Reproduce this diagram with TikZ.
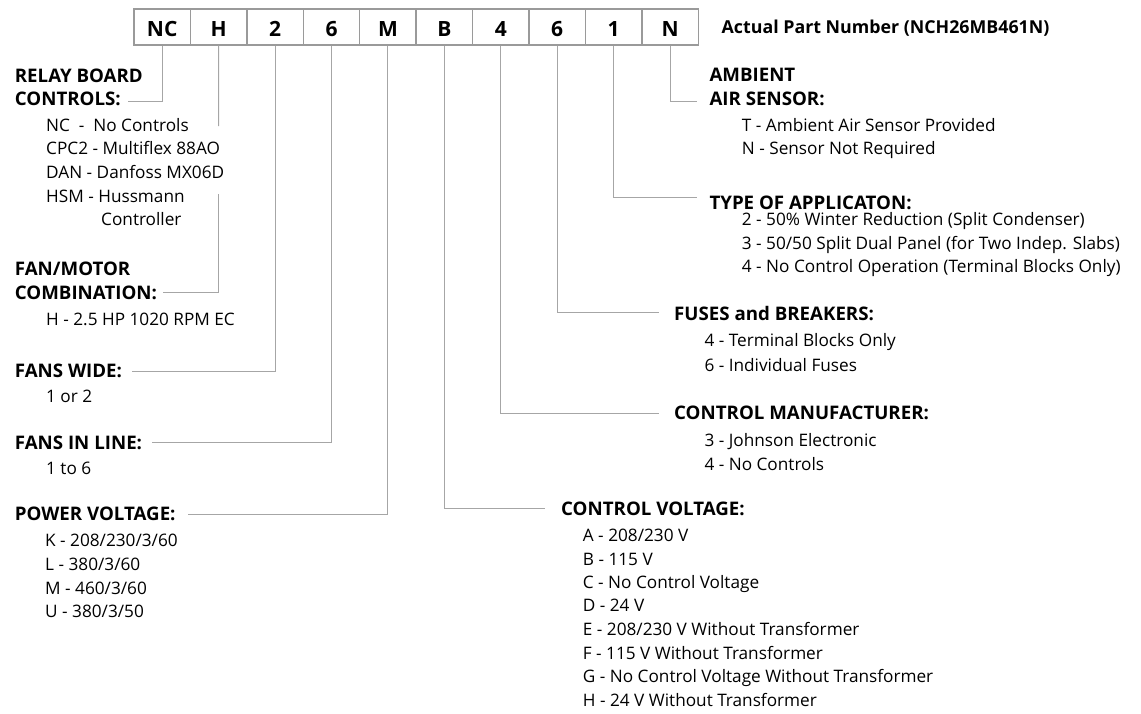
\documentclass[tikz,border=0pt]{standalone}
\usepackage{fontspec}
\setmainfont{Open Sans}
\definecolor{lgray}{HTML}{A6A6A6}
\definecolor{bgray}{HTML}{9A9A9A}
\begin{document}
\begin{tikzpicture}[x=1pt,y=-1pt,
  pbox/.style={draw=bgray,line width=1.4pt,minimum width=56.43pt,minimum height=36pt,inner sep=0pt},
  ptxt/.style={anchor=base,inner sep=0pt,font=\bfseries\fontsize{21}{22}\selectfont},
  lead/.style={draw=lgray,line width=1pt},
  hd/.style={anchor=base west,inner sep=0pt,font=\bfseries\fontsize{18.7}{20}\selectfont},
  ttl/.style={anchor=base west,inner sep=0pt,font=\bfseries\fontsize{17.8}{20}\selectfont},
  opt/.style={anchor=base west,inner sep=0pt,font=\fontsize{17.2}{19}\selectfont}]
\useasboundingbox (0,0) rectangle (1141,713);
% part number boxes
\foreach \i/\t in {1/NC,2/H,3/2,4/6,5/M,6/B,7/4,8/6,9/1,10/N}{
  \node[pbox] (b\i) at ({134+56.43*(\i-0.5)},27) {};
  \node[ptxt] (t\i) at ({134+56.43*(\i-0.5)},36) {\t};
}
\node[ttl] (title) at (721.5,33.3) {Actual Part Number (NCH26MB461N)};

% left column
\node[hd] (h1a) at (14.7,82) {RELAY BOARD};
\node[hd] (h1b) at (14.7,105) {CONTROLS:};
\node[opt] (o1a) at (46,131) {NC\ \ -\ \ No Controls};
\node[opt] (o1b) at (46,154.3) {CPC2 - Multiflex 88AO};
\node[opt] (o1c) at (46,178.3) {DAN - Danfoss MX06D};
\node[opt] (o1d) at (46,202.7) {HSM - Hussmann};
\node[opt] (o1e) at (101,225.7) {Controller};

\node[hd] (h2a) at (14.7,275.7) {FAN/MOTOR};
\node[hd] (h2b) at (14.7,299.3) {COMBINATION:};
\node[opt] (o2a) at (46,325.7) {H - 2.5 HP 1020 RPM EC};

\node[hd] (h3) at (14.7,377.3) {FANS WIDE:};
\node[opt] (o3a) at (46,402.3) {1 or 2};

\node[hd] (h4) at (14.7,449) {FANS IN LINE:};
\node[opt] (o4a) at (46,474) {1 to 6};

\node[hd] (h5) at (14.7,520) {POWER VOLTAGE:};
\node[opt] (o5a) at (45,546) {K - 208/230/3/60};
\node[opt] (o5b) at (45,570) {L - 380/3/60};
\node[opt] (o5c) at (45,594) {M - 460/3/60};
\node[opt] (o5d) at (45,617.7) {U - 380/3/50};

% right column
\node[hd] (h10a) at (709.3,81.7) {AMBIENT};
\node[hd] (h10b) at (709.3,105) {AIR SENSOR:};
\node[opt] (o10a) at (741.7,131) {T - Ambient Air Sensor Provided};
\node[opt] (o10b) at (741.7,154.3) {N - Sensor Not Required};

\node[hd] (h9) at (709.3,209.3) {TYPE OF APPLICATON:};
\node[opt] (o9a) at (741.7,225.7) {2 - 50\% Winter Reduction (Split Condenser)};
\node[opt] (o9b) at (741.7,249.3) {3 - 50/50 Split Dual Panel (for Two Indep. Slabs)};
\node[opt] (o9c) at (741.7,272.3) {4 - No Control Operation (Terminal Blocks Only)};

\node[hd] (h8) at (674,320) {FUSES and BREAKERS:};
\node[opt] (o8a) at (704.3,346.7) {4 - Terminal Blocks Only};
\node[opt] (o8b) at (704.3,371) {6 - Individual Fuses};

\node[hd] (h7) at (674,419.3) {CONTROL MANUFACTURER:};
\node[opt] (o7a) at (704.3,446.7) {3 - Johnson Electronic};
\node[opt] (o7b) at (704.3,470.7) {4 - No Controls};

\node[hd] (h6) at (561,515) {CONTROL VOLTAGE:};
\node[opt] (o6a) at (582.7,541.7) {A - 208/230 V};
\node[opt] (o6b) at (582.7,565) {B - 115 V};
\node[opt] (o6c) at (582.7,588.3) {C - No Control Voltage};
\node[opt] (o6d) at (582.7,611.7) {D - 24 V};
\node[opt] (o6e) at (582.7,635.7) {E - 208/230 V Without Transformer};
\node[opt] (o6f) at (582.7,659) {F - 115 V Without Transformer};
\node[opt] (o6g) at (582.7,682.3) {G - No Control Voltage Without Transformer};
\node[opt] (o6h) at (582.7,706) {H - 24 V Without Transformer};

% leader ends
\coordinate (e1) at (128,101);
\coordinate (g2a) at (218.6,126);
\coordinate (g2b) at (218.6,194);
\coordinate (e2) at (163.3,292.3);
\coordinate (e3) at (132.3,371);
\coordinate (e4) at (152.3,442.7);
\coordinate (e5) at (187.7,514.3);
\coordinate (e6) at (545,508.3);
\coordinate (e7) at (659.3,413.3);
\coordinate (e8) at (659.3,312.7);
\coordinate (e9) at (696.7,197.7);
\coordinate (e10) at (696.7,101);

\draw[lead] (b1.south) |- (e1);
\draw[lead] (b2.south) -- (g2a);
\draw[lead] (g2b) |- (e2);
\draw[lead] (b3.south) |- (e3);
\draw[lead] (b4.south) |- (e4);
\draw[lead] (b5.south) |- (e5);
\draw[lead] (b6.south) |- (e6);
\draw[lead] (b7.south) |- (e7);
\draw[lead] (b8.south) |- (e8);
\draw[lead] (b9.south) |- (e9);
\draw[lead] (b10.south) |- (e10);
\end{tikzpicture}
\end{document}
